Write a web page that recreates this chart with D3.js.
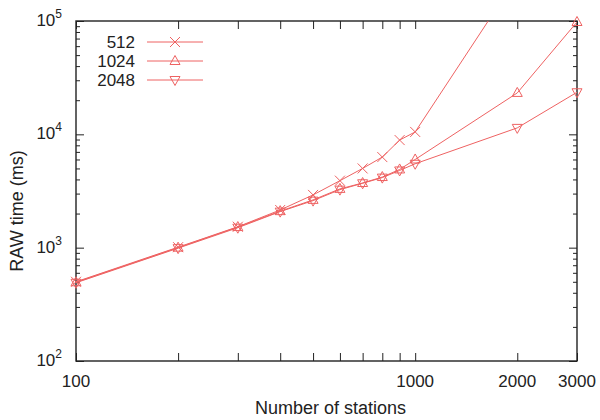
<!DOCTYPE html>
<html>
<head>
<meta charset="utf-8">
<script src="https://cdn.jsdelivr.net/npm/d3@7"></script>
<style>
  body { margin: 0; background: #fff; }
  text { font-family: "Liberation Sans", Arial, sans-serif; fill: #222; }
</style>
</head>
<body>
<div id="chart"></div>
<script>
// ---- data ----
const stations = [100, 200, 300, 400, 500, 600, 700, 800, 900, 1000, 2000, 3000];
const t512  = [500, 1010, 1530, 2150, 2920, 3900, 5000, 6300, 8900, 10500, 245000, null];
const t1024 = [495, 1000, 1520, 2100, 2640, 3300, 3720, 4200, 4900, 6000, 23200, 98000];
const t2048 = [490, 990, 1500, 2080, 2600, 3250, 3700, 4150, 4800, 5500, 11400, 23500];

const seriesNames = ['512', '1024', '2048'];
const seriesValues = [t512, t1024, t2048];
const seriesMarkers = ['cross', 'up', 'down'];

const xTickLabels = [100, 1000, 2000, 3000];
const xTickValues = [100, 200, 300, 400, 500, 600, 700, 800, 900, 1000, 2000, 3000];
const yDecades = [100, 1000, 10000, 100000];

// ---- layout ----
const W = 600, H = 420;
const margin = { top: 21, right: 23, bottom: 59, left: 76 };
const width = W - margin.left - margin.right;
const height = H - margin.top - margin.bottom;
const red = '#ee6262';

const svg = d3.select('#chart').append('svg')
    .attr('width', W).attr('height', H);

const g = svg.append('g')
    .attr('transform', `translate(${margin.left},${margin.top})`);

// ---- scales ----
const x = d3.scaleLog().domain([100, 3000]).range([0, width]);
const y = d3.scaleLog().domain([100, 100000]).range([height, 0]);

// minor y ticks 2..9 per decade
const yMinor = [];
yDecades.slice(0, -1).forEach(d => {
    for (let k = 2; k <= 9; k++) yMinor.push(d * k);
});

// ---- axes (ticks point inward, mirrored on top/right) ----
const axisStyle = sel => {
    sel.select('.domain').remove();
    sel.selectAll('line').attr('stroke', '#222').attr('stroke-width', 1);
};

g.append('g').attr('transform', `translate(0,${height})`)
    .call(d3.axisBottom(x).tickValues(xTickValues).tickSize(-8).tickFormat(''))
    .call(axisStyle);
g.append('g')
    .call(d3.axisTop(x).tickValues(xTickValues).tickSize(-8).tickFormat(''))
    .call(axisStyle);

g.append('g')
    .call(d3.axisLeft(y).tickValues(yDecades).tickSize(-8).tickFormat(''))
    .call(axisStyle);
g.append('g')
    .call(d3.axisLeft(y).tickValues(yMinor).tickSize(-4).tickFormat(''))
    .call(axisStyle);
g.append('g').attr('transform', `translate(${width},0)`)
    .call(d3.axisRight(y).tickValues(yDecades).tickSize(-8).tickFormat(''))
    .call(axisStyle);
g.append('g').attr('transform', `translate(${width},0)`)
    .call(d3.axisRight(y).tickValues(yMinor).tickSize(-4).tickFormat(''))
    .call(axisStyle);

// frame
g.append('rect')
    .attr('width', width).attr('height', height)
    .attr('fill', 'none').attr('stroke', '#222').attr('stroke-width', 1.4);

// x tick labels
g.selectAll('.xlab').data(xTickLabels).join('text')
    .attr('class', 'xlab')
    .attr('x', d => x(d))
    .attr('y', height + 26)
    .attr('text-anchor', 'middle')
    .style('font-size', '17px')
    .text(d => d);

// y tick labels: 10^n
const ylab = g.selectAll('.ylab').data(yDecades).join('text')
    .attr('class', 'ylab')
    .attr('x', -14)
    .attr('y', d => y(d) + 5)
    .attr('text-anchor', 'end')
    .style('font-size', '17px');
ylab.append('tspan').text('10');
ylab.append('tspan')
    .attr('dy', -8)
    .style('font-size', '12px')
    .text(d => Math.round(Math.log10(d)));

// axis titles
svg.append('text')
    .attr('x', margin.left + width / 2 + 4)
    .attr('y', 414)
    .attr('text-anchor', 'middle')
    .style('font-size', '18px')
    .text('Number of stations');

svg.append('text')
    .attr('transform', `translate(23,${margin.top + height / 2 + 20}) rotate(-90)`)
    .attr('text-anchor', 'middle')
    .style('font-size', '18px')
    .text('RAW time (ms)');

// ---- lines ----
g.append('clipPath').attr('id', 'clip')
    .append('rect').attr('width', width).attr('height', height);

const line = d3.line()
    .defined(d => d.v != null)
    .x(d => x(d.s))
    .y(d => y(d.v));

const markerPath = (type, s) => {
    if (type === 'cross') return `M${-s},${-s}L${s},${s}M${-s},${s}L${s},${-s}`;
    if (type === 'up') return `M0,${-s * 1.1}L${s},${s * 0.7}L${-s},${s * 0.7}Z`;
    return `M0,${s * 1.1}L${s},${-s * 0.7}L${-s},${-s * 0.7}Z`;
};

seriesValues.forEach((vals, i) => {
    const pts = stations.map((s, j) => ({ s: s, v: vals[j] }));
    g.append('path')
        .datum(pts)
        .attr('clip-path', 'url(#clip)')
        .attr('fill', 'none')
        .attr('stroke', red)
        .attr('stroke-width', 1)
        .attr('d', line);

    g.selectAll(null)
        .data(pts.filter(p => p.v != null && y(p.v) >= -2))
        .join('path')
        .attr('transform', p => `translate(${x(p.s)},${y(p.v)})`)
        .attr('d', markerPath(seriesMarkers[i], 5))
        .attr('fill', 'none')
        .attr('stroke', red)
        .attr('stroke-width', 1);
});

// ---- legend ----
const legend = svg.append('g');
seriesNames.forEach((name, i) => {
    const yy = 42 + i * 19;
    legend.append('text')
        .attr('x', 135).attr('y', yy + 6)
        .attr('text-anchor', 'end')
        .style('font-size', '17px')
        .text(name);
    legend.append('line')
        .attr('x1', 147).attr('x2', 203)
        .attr('y1', yy).attr('y2', yy)
        .attr('stroke', red).attr('stroke-width', 1);
    legend.append('path')
        .attr('transform', `translate(175,${yy})`)
        .attr('d', markerPath(seriesMarkers[i], 5))
        .attr('fill', 'none')
        .attr('stroke', red);
});
</script>
</body>
</html>
